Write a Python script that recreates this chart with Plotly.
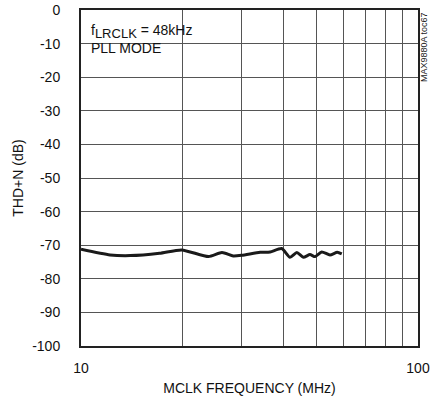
import plotly.graph_objects as go

# THD+N vs MCLK frequency
freq_mhz = [10, 12.2, 14.0, 17.1, 19.9, 23.9, 26.2, 28.3, 30, 34, 36.4, 39.4,
            41.7, 43.7, 45.7, 47.8, 49.5, 51.8, 54.8, 57.6, 59.4]
thd_db = [-71.2, -72.9, -73.1, -72.4, -71.4, -73.4, -72.2, -73.2, -73.0, -72.1, -72.0, -71.0,
          -73.6, -72.2, -73.6, -72.8, -73.4, -72.0, -72.9, -72.1, -72.6]

x_grid = [10, 20, 30, 40, 50, 60, 70, 80, 90, 100]
x_labels = ["10", "", "", "", "", "", "", "", "", "100"]
y_ticks = list(range(-100, 1, 10))
y_labels = [str(v) for v in y_ticks]

font = "Liberation Sans, Arial, sans-serif"

fig = go.Figure()
fig.add_trace(go.Scatter(x=freq_mhz, y=thd_db, mode="lines",
                         line=dict(color="#1a1a1a", width=3, shape="spline", smoothing=0.6),
                         showlegend=False))

# white box behind the condition text
fig.add_shape(type="rect", xref="paper", yref="paper", x0=0.005, x1=0.362, y0=0.85, y1=0.988,
              fillcolor="white", line_width=0, layer="below")
fig.add_annotation(xref="paper", yref="paper", x=0.025, y=0.97, xanchor="left", yanchor="top",
                   align="left", showarrow=False,
                   text="f<sub><span style='font-size:13px'>LRCLK</span></sub> = 48kHz<br>PLL MODE",
                   font=dict(family=font, size=14, color="#111"))
fig.add_annotation(xref="paper", yref="paper", x=1.0, y=1.0, xshift=6, xanchor="center", yanchor="top",
                   showarrow=False, textangle=-90, text="MAX9880A toc67",
                   font=dict(family=font, size=9, color="#222"))

fig.update_xaxes(type="log", range=[1, 2], tickvals=x_grid, ticktext=x_labels,
                 showgrid=True, gridcolor="#555", gridwidth=1,
                 showline=True, mirror=True, linecolor="#222", linewidth=2,
                 ticks="", ticklabelstandoff=8, zeroline=False, automargin=False,
                 title=dict(text="MCLK FREQUENCY (MHz)", standoff=8,
                            font=dict(family=font, size=14, color="#111")),
                 tickfont=dict(family=font, size=14, color="#111"))
fig.update_yaxes(range=[-100, 0], tickvals=y_ticks, ticktext=y_labels,
                 showgrid=True, gridcolor="#555", gridwidth=1,
                 showline=True, mirror=True, linecolor="#222", linewidth=2,
                 ticks="", ticklabelstandoff=16, zeroline=False, automargin=False,
                 title=dict(text="THD+N (dB)", standoff=5,
                            font=dict(family=font, size=14, color="#111")),
                 tickfont=dict(family=font, size=14, color="#111"))

fig.update_layout(width=431, height=409, margin=dict(l=81, r=13, t=10, b=63),
                  paper_bgcolor="white", plot_bgcolor="white",
                  font=dict(family=font, color="#111"))

# drop the default page margin so the figure sits at the window's corner
fig.write_html("out.html", config={"displayModeBar": False},
               post_script="document.body.style.margin='0';")
